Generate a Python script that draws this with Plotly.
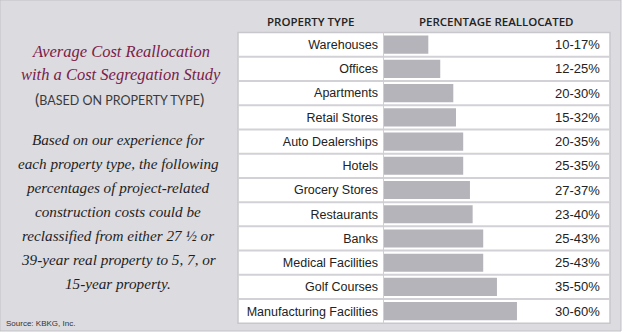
import plotly.graph_objects as go

W, H = 624, 333

categories = ["Warehouses", "Offices", "Apartments", "Retail Stores", "Auto Dealerships",
              "Hotels", "Grocery Stores", "Restaurants", "Banks", "Medical Facilities",
              "Golf Courses", "Manufacturing Facilities"]
bar_values = [19.7, 25, 30.8, 32, 35.2, 35.2, 38.2, 39.4, 44.1, 44.1, 50.2, 59.1]
range_labels = ["10-17%", "12-25%", "20-30%", "15-32%", "20-35%", "25-35%",
                "27-37%", "23-40%", "25-43%", "25-43%", "35-50%", "30-60%"]

title_lines = ["Average Cost Reallocation", "with a Cost Segregation Study"]
subtitle = "BASED ON PROPERTY TYPE"
body_lines = ["Based on our experience for",
              "each property type, the following",
              "percentages of project-related",
              "construction costs could be",
              "reclassified from either 27 \u00bd or",
              "39-year real property to 5, 7, or",
              "15-year property."]
source_text = "Source: KBKG, Inc."
header_left = "PROPERTY TYPE"
header_right = "PERCENTAGE REALLOCATED"


def px(x):
    return x / W


def py(y):
    return 1 - y / H


BG = "#dcdbe0"
BAR = "#b6b4bb"
LINE = "#d2d1d6"
MAROON = "#7a1c48"

table_l, table_r, table_t, table_b = 238, 610, 32.5, 323.3
axis_l = 384

fig = go.Figure()
fig.add_trace(go.Bar(
    x=bar_values, y=categories, orientation="h",
    marker=dict(color=BAR, line=dict(width=0)),
    width=0.75, hoverinfo="skip",
))

shapes = []
shapes.append(dict(type="rect", xref="paper", yref="paper", x0=0, x1=px(621), y0=py(331), y1=1,
                   fillcolor=BG, line=dict(color="#c2c1c6", width=1), layer="below"))
shapes.append(dict(type="rect", xref="paper", yref="paper", x0=px(table_l), x1=px(table_r),
                   y0=py(table_b), y1=py(table_t), fillcolor="white",
                   line=dict(color="#c8c7cc", width=1.5), layer="below"))
for i in range(len(categories) - 1):
    shapes.append(dict(type="line", xref="paper", yref="y", x0=px(table_l), x1=px(table_r),
                       y0=i + 0.5, y1=i + 0.5, line=dict(color=LINE, width=2), layer="below"))
shapes.append(dict(type="line", xref="paper", yref="paper", x0=px(axis_l - 0.5), x1=px(axis_l - 0.5),
                   y0=py(table_b), y1=py(table_t), line=dict(color="#cfcfd3", width=1), layer="below"))

annotations = []
for cat, lab in zip(categories, range_labels):
    annotations.append(dict(x=px(602), y=cat, xref="paper", yref="y", text=lab,
                            showarrow=False, xanchor="right", yanchor="middle",
                            font=dict(family="Liberation Sans", size=13, color="#222")))

hdr_font = dict(family="Open Sans", size=11.5, color="#222", weight=600)
annotations.append(dict(x=px(310), y=py(22), xref="paper", yref="paper", text=header_left,
                        showarrow=False, xanchor="center", yanchor="middle", font=hdr_font))
annotations.append(dict(x=px(497), y=py(21), xref="paper", yref="paper", text=header_right,
                        showarrow=False, xanchor="center", yanchor="middle", font=hdr_font))

for i, t in enumerate(title_lines):
    annotations.append(dict(x=px(121), y=py(51 + 23 * i), xref="paper", yref="paper",
                            text="<i>" + t + "</i>", showarrow=False, xanchor="center", yanchor="middle",
                            font=dict(family="Liberation Serif", size=16.5, color=MAROON)))
annotations.append(dict(x=px(119), y=py(98), xref="paper", yref="paper",
                        text="(<span style='font-size:12.5px'>" + subtitle + "</span>)",
                        showarrow=False, xanchor="center", yanchor="middle",
                        font=dict(family="Lato", size=16, color="#3a3a3a")))

for i, t in enumerate(body_lines):
    annotations.append(dict(x=px(118), y=py(139 + 24.1 * i), xref="paper", yref="paper",
                            text="<i>" + t + "</i>", showarrow=False, xanchor="center", yanchor="middle",
                            font=dict(family="Liberation Serif", size=15.2, color="#1e1e1e")))

annotations.append(dict(x=px(4), y=py(323), xref="paper", yref="paper", text=source_text,
                        showarrow=False, xanchor="left", yanchor="middle",
                        font=dict(family="Liberation Sans", size=8, color="#333")))

fig.update_layout(
    width=W, height=H, autosize=False,
    margin=dict(l=0, r=0, t=0, b=0, pad=0),
    paper_bgcolor="white", plot_bgcolor="rgba(0,0,0,0)",
    showlegend=False,
    bargap=0.25,
    shapes=shapes, annotations=annotations,
    xaxis=dict(domain=[px(axis_l), px(axis_l + 225)], range=[0, 100], visible=False,
               fixedrange=True),
    yaxis=dict(domain=[py(table_b), py(table_t)], autorange="reversed",
               categoryorder="array", categoryarray=categories,
               showgrid=False, zeroline=False, showline=False, ticks="",
               ticklabelstandoff=5, automargin=False,
               tickfont=dict(family="Liberation Sans", size=12.5, color="#222")),
)

fig.write_html("out.html")
